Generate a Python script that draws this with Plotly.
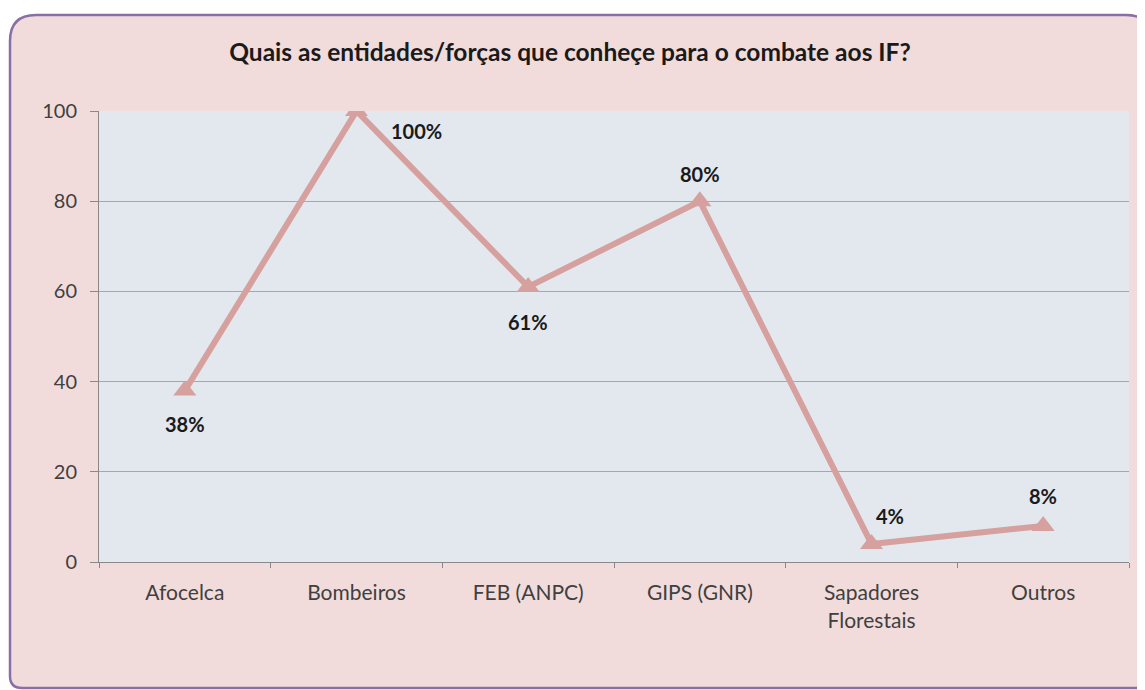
import plotly.graph_objects as go

categories = ["Afocelca", "Bombeiros", "FEB (ANPC)", "GIPS (GNR)", "Sapadores<br>Florestais", "Outros"]
values = [38, 100, 61, 80, 4, 8]
labels = ["38%", "100%", "61%", "80%", "4%", "8%"]
label_shift = [(0, -33), (60, -20), (0, -35), (0, 27), (18, 28), (0, 30)]

OFF = 8  # page body margin
W, H = 1145 - OFF, 690 - OFF
L, R, T, B = 99 - OFF, 1145 - 1129, 111 - OFF, 690 - 562
pw, ph = W - L - R, H - T - B

def px(x):
    return (x - OFF - L) / pw

def py(y):
    return (H - B - (y - OFF)) / ph

def rounded(x0, y0, x1, y1, rt, rb):
    pts = [
        f"M {px(x0 + rt)},{py(y0)}",
        f"L {px(x1 - rt)},{py(y0)}",
        f"Q {px(x1)},{py(y0)} {px(x1)},{py(y0 + rt)}",
        f"L {px(x1)},{py(y1 - rb)}",
        f"Q {px(x1)},{py(y1)} {px(x1 - rb)},{py(y1)}",
        f"L {px(x0 + rb)},{py(y1)}",
        f"Q {px(x0)},{py(y1)} {px(x0)},{py(y1 - rb)}",
        f"L {px(x0)},{py(y0 + rt)}",
        f"Q {px(x0)},{py(y0)} {px(x0 + rt)},{py(y0)}",
        "Z",
    ]
    return " ".join(pts)

font = "Lato, 'Open Sans', sans-serif"
line_col = "#d6a09e"

fig = go.Figure()
fig.add_trace(go.Scatter(
    x=categories, y=values, mode="lines+markers",
    line=dict(color=line_col, width=6),
    marker=dict(symbol="triangle-up", size=20, color=line_col),
    hoverinfo="skip", showlegend=False,
))

for c, v, t, (dx, dy) in zip(categories, values, labels, label_shift):
    fig.add_annotation(x=c, y=v, text=f"<b>{t}</b>", showarrow=False,
                       xshift=dx, yshift=dy,
                       font=dict(family=font, size=20, color="#1a1a1a"))

shapes = [
    dict(type="path", xref="paper", yref="paper", path=rounded(10, 15, 1152, 688, 26, 12),
         fillcolor="#f2dcdb", line=dict(color="#8a6ea6", width=2.5), layer="below"),
    dict(type="rect", xref="paper", yref="paper", x0=0, x1=1, y0=0, y1=1,
         fillcolor="#e2e8ee", line=dict(width=0), layer="below"),
]

fig.update_layout(
    width=W, height=H,
    margin=dict(l=L, r=R, t=T, b=B),
    paper_bgcolor="white",
    plot_bgcolor="#e2e8ee",
    shapes=shapes,
    title=dict(text="<b>Quais as entidades/forças que conheçe para o combate aos IF?</b>",
               x=(570 - OFF) / W, xanchor="center", y=1 - (52 - OFF) / H, yanchor="middle",
               font=dict(family=font, size=24.5, color="#1a1a1a")),
    font=dict(family=font, size=20, color="#404040"),
    xaxis=dict(
        type="category", range=[-0.5, 5.5], tickson="boundaries", ticks="outside",
        ticklen=5, tickcolor="#888888", showgrid=False, showline=True,
        linecolor="#888888", linewidth=1, ticklabelstandoff=12,
        tickfont=dict(family=font, size=21, color="#404040"), fixedrange=True,
    ),
    yaxis=dict(
        range=[0, 100], tickvals=[0, 20, 40, 60, 80, 100], ticks="outside",
        ticklen=8, tickcolor="#888888", showgrid=True, gridcolor="#a3a8ad",
        gridwidth=1, showline=True, linecolor="#888888", linewidth=1,
        zeroline=False, ticklabelstandoff=9,
        tickfont=dict(family=font, size=20, color="#404040"), fixedrange=True,
    ),
)

fig.write_html("out.html")
